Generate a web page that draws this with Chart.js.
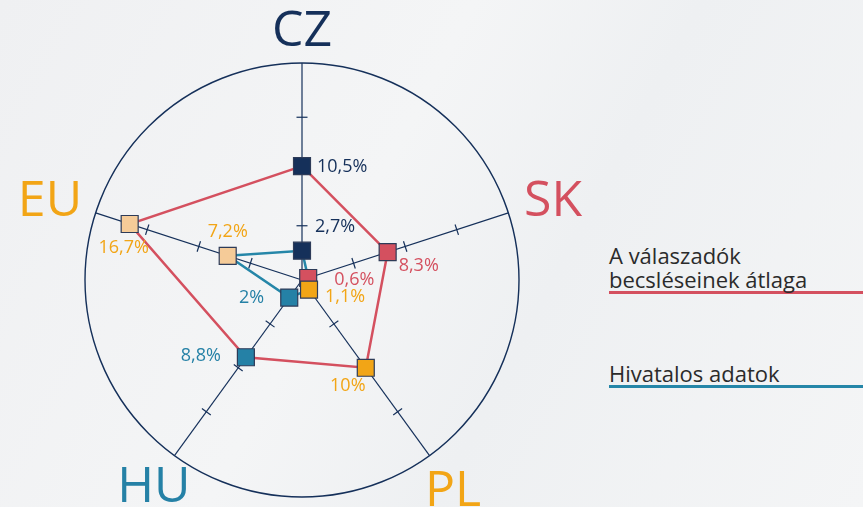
<!DOCTYPE html>
<html lang="hu">
<head>
<meta charset="utf-8">
<script src="https://cdn.jsdelivr.net/npm/chart.js@4.4.0/dist/chart.umd.min.js"></script>
<style>
  html, body { margin: 0; padding: 0; }
  body {
    width: 863px; height: 507px; overflow: hidden; position: relative;
    font-family: "Open Sans", sans-serif;
    background: linear-gradient(118deg, #eff0f2 0%, #f4f5f6 42%, #eef0f2 62%, #f4f5f6 100%);
  }
  #wrap { position: absolute; left: 0; top: 0; width: 604px; height: 507px; }
  .legend-item {
    position: absolute; left: 609px; width: 254px;
    font-size: 22px; line-height: 24px; color: #2b2b2b;
    border-bottom: 3px solid;
  }
</style>
</head>
<body>
<div id="wrap"><canvas id="radar" width="604" height="507"></canvas></div>
<div class="legend-item" id="leg0" style="top:243px;border-color:#d4505f"></div>
<div class="legend-item" id="leg1" style="top:361px;border-color:#2586a8"></div>
<script>
// data
const categories = ['CZ', 'SK', 'PL', 'HU', 'EU'];
const estimateValues = [10.5, 8.3, 10, 8.8, 16.7];   // A válaszadók becsléseinek átlaga
const officialValues = [2.7, 0.6, 1.1, 2, 7.2];      // Hivatalos adatok
const seriesNames = ['A válaszadók<br>becsléseinek átlaga', 'Hivatalos adatok'];
const spokeTicks = [5, 10, 15];
const scaleMax = 20;

// colours
const NAVY = '#15305a';
const RED = '#d4505f';
const BLUE = '#2586a8';
const labelColors = ['#15305a', '#d4505f', '#f2a516', '#2581a6', '#f2a516'];
const markerColors = ['#15305a', '#d4505f', '#f2a516', '#2581a6', '#f5cb98'];

// big category label distance beyond the circle
const labelPad = [35, 47, 40, 35, 48];

// value label placement relative to the marker: [dx, dy, align]
const valueOffsets = [
    [[15, 1, 'left'], [11, 14, 'left'], [-18, 18, 'center'], [-25, -1, 'right'], [-6, 24, 'center']],
    [[13, -24, 'left'], [26, 2, 'left'], [16, 7, 'left'], [-25, 0, 'right'], [0, -24, 'center']]
];

document.getElementById('leg0').innerHTML = seriesNames[0];
document.getElementById('leg1').innerHTML = seriesNames[1];

const fmt = v => String(v).replace('.', ',') + '%';

const decorPlugin = {
    id: 'decor',
    beforeDatasetsDraw(chart) {
        const s = chart.scales.r;
        const ctx = chart.ctx;
        ctx.save();
        // little tick marks across the spokes
        ctx.strokeStyle = NAVY;
        ctx.lineWidth = 1.2;
        categories.forEach((c, i) => {
            const a = s.getIndexAngle(i) - Math.PI / 2;
            const px = -Math.sin(a), py = Math.cos(a);
            spokeTicks.forEach(v => {
                const p = s.getPointPositionForValue(i, v);
                ctx.beginPath();
                ctx.moveTo(p.x - px * 5.5, p.y - py * 5.5);
                ctx.lineTo(p.x + px * 5.5, p.y + py * 5.5);
                ctx.stroke();
            });
        });
        // category labels
        ctx.font = '50px "Open Sans"';
        ctx.textAlign = 'center';
        ctx.textBaseline = 'alphabetic';
        categories.forEach((c, i) => {
            const p = s.getPointPosition(i, s.drawingArea + labelPad[i]);
            ctx.fillStyle = labelColors[i];
            ctx.fillText(c, p.x, p.y + 18);
        });
        ctx.restore();
    },
    afterDatasetsDraw(chart) {
        const ctx = chart.ctx;
        ctx.save();
        ctx.font = '18px "Open Sans"';
        ctx.textBaseline = 'middle';
        chart.data.datasets.forEach((ds, d) => {
            const meta = chart.getDatasetMeta(d);
            meta.data.forEach((pt, i) => {
                const [dx, dy, align] = valueOffsets[d][i];
                ctx.textAlign = align;
                ctx.fillStyle = labelColors[i];
                ctx.fillText(fmt(ds.data[i]), pt.x + dx, pt.y + dy);
            });
        });
        ctx.restore();
    }
};

new Chart(document.getElementById('radar'), {
    type: 'radar',
    data: {
        labels: categories,
        datasets: [
            {
                label: 'A válaszadók becsléseinek átlaga',
                data: estimateValues,
                borderColor: RED,
                borderWidth: 2.5,
                fill: false,
                pointStyle: 'rect',
                pointRadius: 12,
                pointHoverRadius: 12,
                pointBackgroundColor: markerColors,
                pointBorderColor: '#2d3b58',
                pointBorderWidth: 1.2
            },
            {
                label: 'Hivatalos adatok',
                data: officialValues,
                borderColor: BLUE,
                borderWidth: 2.5,
                fill: false,
                pointStyle: 'rect',
                pointRadius: 12,
                pointHoverRadius: 12,
                pointBackgroundColor: markerColors,
                pointBorderColor: '#2d3b58',
                pointBorderWidth: 1.2
            }
        ]
    },
    options: {
        responsive: false,
        animation: false,
        layout: { padding: { top: 63, bottom: 9, left: 0, right: 0 } },
        plugins: { legend: { display: false }, tooltip: { enabled: false } },
        scales: {
            r: {
                min: 0,
                max: scaleMax,
                ticks: { display: false, stepSize: scaleMax },
                grid: { circular: true, color: NAVY, lineWidth: 1.4 },
                angleLines: { color: NAVY, lineWidth: 1.2 },
                pointLabels: { display: false }
            }
        }
    },
    plugins: [decorPlugin]
});
</script>
</body>
</html>
